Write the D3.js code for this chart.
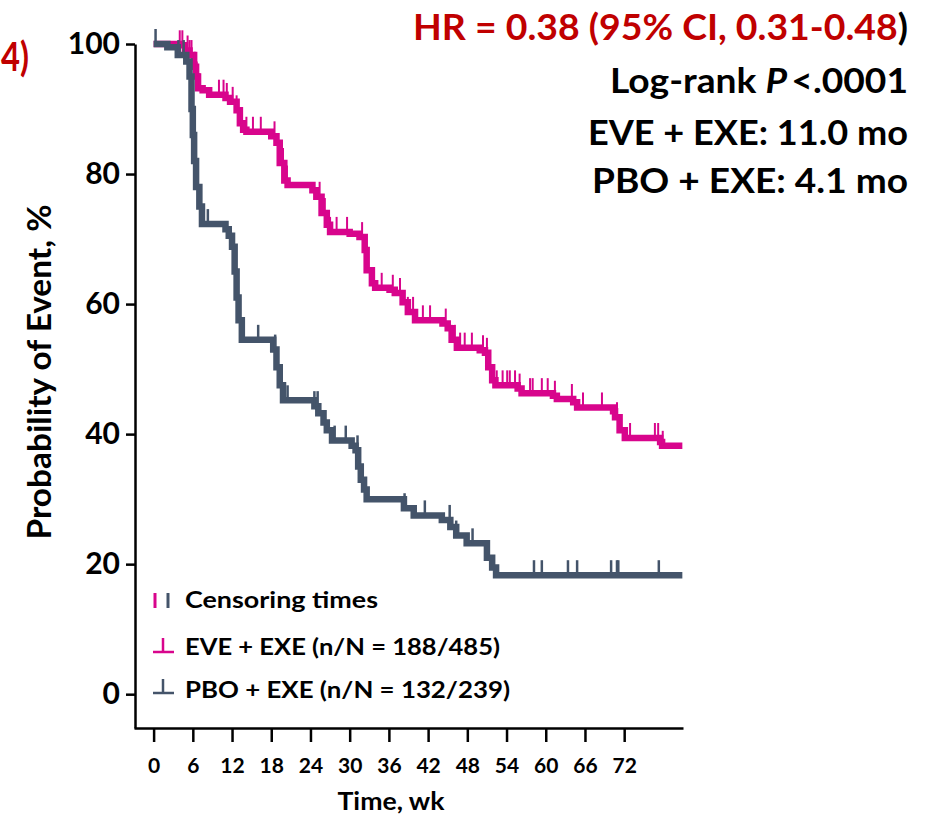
<!DOCTYPE html>
<html>
<head>
<meta charset="utf-8">
<script src="https://cdn.jsdelivr.net/npm/d3@7"></script>
<style>
  body { margin: 0; background: #fff; }
  svg { display: block; font-family: Lato, "Open Sans", sans-serif; font-weight: 700; }
</style>
</head>
<body>
<div id="vis"></div>
<script>
const width = 941;
const height = 817;

// Kaplan-Meier steps: week, % event-free
const eveTime = [0,4.0,4.8,5.5,6.2,6.5,6.8,7.5,8.5,11.0,11.7,12.7,13.2,13.7,14.2,18.0,18.8,19.3,20.0,20.5,24.3,24.9,25.7,26.5,27.0,30.0,31.5,32.3,32.6,33.4,33.9,36.1,36.9,38.1,38.9,40.0,44.2,45.0,45.6,46.4,49.9,50.7,51.2,51.8,52.3,55.7,56.3,61.1,61.7,64.2,64.8,70.3,70.6,71.3,72.1,77.5,77.8];
const eveSurv = [100,99.8,99,98.3,96.5,95,93.2,92.9,92.2,91.7,91.1,89.8,87.8,86.8,86.5,85.8,84.8,81.7,79,78.3,77.5,76.5,74,72.2,71.1,70.8,70.3,68.3,65.2,63.2,62.5,62.2,61.7,60.3,58.8,57.5,57.0,56.3,54.5,53.3,52.9,52.5,50.3,48.3,47.5,47.0,46.3,45.9,45.4,44.9,44.1,43.5,42.6,40.6,39.4,38.8,38.2];
const eveCensor = [4.0,4.4,5.2,5.5,5.8,6.3,6.6,7.0,10.0,10.7,11.2,12.1,12.7,13.2,13.5,14.2,15.2,16.4,18.5,19.3,19.8,20.4,25.4,26.2,27.0,28.0,29.6,31.9,32.3,33.5,34.9,36.6,37.7,38.9,39.7,41.2,42.3,44.7,45.6,46.1,46.9,47.6,48.7,50.4,51.0,51.8,52.5,53.4,54.1,54.5,55.3,56.0,57.6,58.0,59.4,60.3,61.4,64.0,65.7,68.6,70.9,71.4,72.9,76.7,77.2,77.9];

const pboTime = [0,2.1,3.7,5.0,5.5,5.8,6.0,6.2,6.5,7.0,7.4,11.0,11.5,12.0,12.4,12.7,13.0,13.5,18.3,18.8,19.3,19.8,24.6,25.2,26.0,26.5,27.3,30.3,30.9,31.3,31.7,32.2,32.6,38.3,39.8,44.1,45.4,46.3,47.9,51.0,51.8,52.4];
const pboSurv = [100,99.5,98.3,97.3,95,90,86,82,78,75,72.3,71.5,70.5,68.8,65,61,57.5,54.5,53,50.3,47.5,45.2,44.3,43.2,41.8,40.6,39,38.2,37.5,35,33,31.5,30,28.6,27.5,26.8,25.7,24.4,23.2,21,19.5,18.3];
const pboCensor = [0.3,3.8,4.6,8.3,16.0,18.6,20.5,24.6,25.1,27.7,29.4,31.2,38.4,41.5,45.3,46.3,48.8,58.2,59.4,63.4,64.8,70.0,70.9,71.1,77.3];

const lastWeek = 80.9;
const xTicks = [0,6,12,18,24,30,36,42,48,54,60,66,72];
const yTicks = [0,20,40,60,80,100];
const legendLabels = ["Censoring times", "EVE + EXE (n/N = 188/485)", "PBO + EXE (n/N = 132/239)"];
const statLines = ["Log-rank ", "EVE + EXE: 11.0 mo", "PBO + EXE: 4.1 mo"];

const magenta = "#d8058c";
const slate = "#44546a";
const red = "#c00000";

const svg = d3.select("#vis").append("svg")
  .attr("width", width)
  .attr("height", height);

const x = d3.scaleLinear().domain([-3, 81]).range([134, 683]);
const y = d3.scaleLinear().domain([-5.2, 100]).range([728, 44]);

// the source font is narrower than Lato: keep the height, squeeze to the width
function fit(sel, w) {
  sel.attr("textLength", w).attr("lengthAdjust", "spacingAndGlyphs");
}

// axes
const yAxis = svg.append("g")
  .attr("transform", "translate(135,0)")
  .call(d3.axisLeft(y).tickValues(yTicks).tickSize(9).tickSizeOuter(0).tickPadding(6));
yAxis.select(".domain").attr("stroke", "#000").attr("stroke-width", 2.5);
yAxis.selectAll(".tick line").attr("stroke", "#000").attr("stroke-width", 2.5);
yAxis.selectAll(".tick text").attr("fill", "#000")
  .style("font-family", "Lato, sans-serif").style("font-weight", 700).style("font-size", "30px");

const xAxis = svg.append("g")
  .attr("transform", "translate(0,728)")
  .call(d3.axisBottom(x).tickValues(xTicks).tickSize(14).tickSizeOuter(0).tickPadding(16));
xAxis.select(".domain").attr("stroke", "#000").attr("stroke-width", 2.5);
xAxis.selectAll(".tick line").attr("stroke", "#000").attr("stroke-width", 2.5);
xAxis.selectAll(".tick text").attr("fill", "#000")
  .style("font-family", "Lato, sans-serif").style("font-weight", 700).style("font-size", "21px");

// axis titles
const yTitle = svg.append("text")
  .attr("transform", "translate(51,372) rotate(-90)")
  .attr("text-anchor", "middle")
  .style("font-size", "32px")
  .text("Probability of Event, %");
fit(yTitle, 335);

const xTitle = svg.append("text")
  .attr("x", 391).attr("y", 810)
  .attr("text-anchor", "middle")
  .style("font-size", "25px")
  .text("Time, wk");
fit(xTitle, 107);

// curves
const line = d3.line()
  .x(d => x(d[0]))
  .y(d => y(d[1]))
  .curve(d3.curveStepAfter);

function steps(times, surv) {
  const pts = times.map((t, i) => [t, surv[i]]);
  pts.push([lastWeek, surv[surv.length - 1]]);
  return pts;
}

function survAt(times, surv, t) {
  const i = Math.max(0, d3.bisectRight(times, t) - 1);
  return surv[i];
}

function drawSeries(times, surv, censor, color, tickW) {
  svg.append("path")
    .datum(steps(times, surv))
    .attr("fill", "none")
    .attr("stroke", color)
    .attr("stroke-width", 6.5)
    .attr("d", line);

  svg.append("g").selectAll("line")
    .data(censor)
    .join("line")
    .attr("x1", d => x(d)).attr("x2", d => x(d))
    .attr("y1", d => y(survAt(times, surv, d)))
    .attr("y2", d => y(survAt(times, surv, d)) - 15)
    .attr("stroke", color)
    .attr("stroke-width", tickW);
}

drawSeries(eveTime, eveSurv, eveCensor, magenta, 2);
drawSeries(pboTime, pboSurv, pboCensor, slate, 2.5);

// legend
const lg = svg.append("g");
lg.append("line").attr("x1", 155).attr("x2", 155).attr("y1", 593).attr("y2", 608)
  .attr("stroke", magenta).attr("stroke-width", 3);
lg.append("line").attr("x1", 168).attr("x2", 168).attr("y1", 593).attr("y2", 608)
  .attr("stroke", slate).attr("stroke-width", 3);

[[magenta, 652], [slate, 693]].forEach(([c, yy]) => {
  lg.append("line").attr("x1", 153).attr("x2", 174).attr("y1", yy).attr("y2", yy)
    .attr("stroke", c).attr("stroke-width", 2.5);
  lg.append("line").attr("x1", 163).attr("x2", 163).attr("y1", yy - 14).attr("y2", yy)
    .attr("stroke", c).attr("stroke-width", 2.5);
});

const legendY = [608, 655, 698];
const legendW = [193, 315, 325];
legendLabels.forEach((t, i) => {
  const tx = lg.append("text")
    .attr("x", 185).attr("y", legendY[i])
    .style("font-size", "23.5px")
    .text(t);
  fit(tx, legendW[i]);
});

// statistics block, right aligned
const hr = svg.append("text")
  .attr("x", 908).attr("y", 40)
  .attr("text-anchor", "end")
  .style("font-size", "37px");
hr.append("tspan").attr("fill", red).text("HR = 0.38 (95% CI, 0.31-0.48");
hr.append("tspan").attr("fill", "#000").text(")");
fit(hr, 495);

const lr = svg.append("text")
  .attr("x", 908).attr("y", 93)
  .attr("text-anchor", "end")
  .style("font-size", "35px");
lr.append("tspan").text(statLines[0]);
lr.append("tspan").style("font-style", "italic").text("P");
lr.append("tspan").attr("dx", 4).text("<.0001");
fit(lr, 298);

const eveMed = svg.append("text")
  .attr("x", 908).attr("y", 145)
  .attr("text-anchor", "end")
  .style("font-size", "35px")
  .text(statLines[1]);
fit(eveMed, 320);

const pboMed = svg.append("text")
  .attr("x", 908).attr("y", 193)
  .attr("text-anchor", "end")
  .style("font-size", "35px")
  .text(statLines[2]);
fit(pboMed, 316);

// panel number at the left edge
const panel = svg.append("text")
  .attr("x", 1).attr("y", 71)
  .attr("fill", red)
  .style("font-size", "40px")
  .text("4)");
fit(panel, 28);
</script>
</body>
</html>
